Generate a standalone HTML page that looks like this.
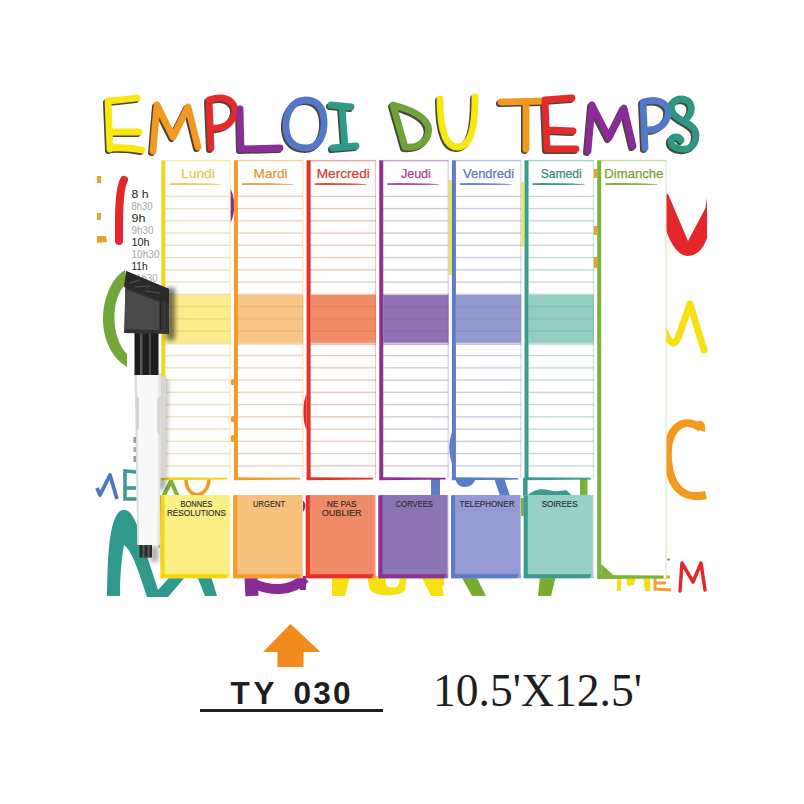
<!DOCTYPE html>
<html><head><meta charset="utf-8"><style>
html,body{margin:0;padding:0;background:#ffffff;width:804px;height:804px;overflow:hidden;}
svg{display:block;font-family:"Liberation Sans",sans-serif;}
</style></head><body><svg width="804" height="804" viewBox="0 0 804 804"><defs>
<filter id="blur3" x="-50%" y="-50%" width="200%" height="200%"><feGaussianBlur stdDeviation="2.5"/></filter>
<filter id="blur1" x="-50%" y="-50%" width="200%" height="200%"><feGaussianBlur stdDeviation="0.6"/></filter>
</defs><g><rect x="97" y="176" width="4" height="7" fill="#f0a030"/><rect x="97" y="213" width="4" height="7" fill="#f0a030"/><path d="M97,236 L106,236 L107,242 L97,243 Z" fill="#f0a030"/><path d="M124,180 C118,190 119,225 119,241" stroke="#e5262a" stroke-width="8" fill="none" stroke-linecap="round"/><path d="M125,270 C99,286 92,345 127,367 L127,354 C111,338 110,298 126,284 Z" fill="#72a83a"/><path d="M97,488 L100,495 L110,475 L117,499" stroke="#4f74c0" stroke-width="3.8" fill="none" stroke-linejoin="round"/><path d="M137,472 L125,471 L125,499 L137,499 M125,488 L136,488" stroke="#3a9b8e" stroke-width="3.5" fill="none"/><path d="M163,497 L171,481 L178,497" stroke="#7cb13a" stroke-width="4" fill="none"/><path d="M186,478 C185,500 209,500 209,478" stroke="#f09a2a" stroke-width="3.5" fill="none"/><path d="M107,596 C108,560 108,522 120,511 C128,506 134,516 138,528 L158,590 L178,568 L186,576 L168,597 L147,597 C140,575 132,550 124,545 C121,560 120,580 120,596 Z" fill="#2f9a8c"/><path d="M197,576 L211,576 L217,596 L205,596 Z" fill="#2f9a8c"/><path d="M251,578 L252,596" stroke="#8a2a95" stroke-width="13" fill="none"/><path d="M250,582 C270,592 292,592 305,578" stroke="#8a2a95" stroke-width="10" fill="none"/><rect x="300" y="576" width="6" height="14" fill="#8a2a95"/><path d="M332,576 L350,576 L345,596 L332,596 Z" fill="#f7e012"/><path d="M367,576 L407,576 L405,590 C400,597 375,597 370,590 Z M385,576 L400,576 L399,584 C396,589 388,589 386,584 Z" fill="#f7e012" fill-rule="evenodd"/><path d="M421,576 L440,576 L444,596 L431,596 Z" fill="#f7e012"/><path d="M461,576 L476,576 L486,596 L472,596 Z" fill="#7aaa32"/><path d="M540,576 L556,576 L551,596 L538,596 Z" fill="#7aaa32"/><rect x="440" y="576" width="4" height="10" fill="#f7e012"/><path d="M617,576 L621.5,576 L621,591 L617,591 Z M626,576 L636,576 L634,585 C631,586 628,586 627,585 Z M643,576 L650,576 L650.5,591 L645,591 Z" fill="#f6df1a"/><path d="M670,577 L655,577 L655,589 L671,590 M655,583 L666,583" stroke="#f0a030" stroke-width="3" fill="none"/><circle cx="668.5" cy="559.5" r="1.3" fill="#b08050"/><path d="M680,591 L682,563 L693,582 L701,563 L705,590" stroke="#e5262a" stroke-width="3.5" fill="none" stroke-linejoin="round" stroke-linecap="round"/><path d="M666,193 L668.5,195 L688,241 L705.5,208 L707,198 L707,238 C703,250 696,256 687,256 C678,255 671,245 666,230 Z" fill="#e5262a"/><path d="M664,330 C670,345 674,346 678,338 L690,304 L704,350" stroke="#f6e012" stroke-width="7" fill="none" stroke-linejoin="round" stroke-linecap="round"/><path d="M701,428 C680,414 666,432 668,460 C670,488 684,500 706,495" stroke="#f29a1f" stroke-width="8" fill="none"/><path d="M698,421 C704,420 706,424 705,432 L699,430 Z" fill="#f29a1f"/><rect x="431" y="478" width="9" height="18" fill="#5a7dc5"/><path d="M494,478 L504,478 L510,496 L500,496 Z" fill="#5a7dc5"/><path d="M455,478 L476,478 C474,484 470,487 464,487 C459,487 456,483 455,478 Z" fill="#5a7dc5"/><path d="M526,497 C532,490 540,488 548,490 C556,492 560,491 566,490 C568,492 570,493 572,496 L572,497 Z" fill="#3a9b8e"/><rect x="580" y="478" width="7.5" height="18" fill="#7cb13a"/><rect x="521" y="498" width="3" height="18" fill="#7cb13a"/><path d="M229,186 C236,196 236,215 229,226 Z" fill="#8a2a95"/><path d="M302,500 C306,502 307,508 302,513 Z" fill="#8a2a95"/><path d="M307,393 C302,402 302,422 307,431 Z" fill="#e5262a"/><path d="M453,430 C448,440 448,455 453,466 Z" fill="#5a7dc5"/><rect x="521" y="182" width="3.5" height="65" fill="#e8ea5a"/><rect x="448.5" y="180" width="3.5" height="95" fill="#ece85a"/><rect x="231" y="379" width="4" height="6" rx="1.5" fill="#f29a2a"/><rect x="231" y="416" width="4" height="6" rx="1.5" fill="#f29a2a"/><rect x="231" y="435" width="4" height="7" rx="1.5" fill="#f29a2a"/><rect x="593.5" y="169" width="4" height="9" fill="#f0a030"/><rect x="593.5" y="226" width="4" height="9" fill="#f0a030"/><rect x="593.5" y="257" width="4" height="11" fill="#f0a030"/></g><g><rect x="161.3" y="160.5" width="69.3" height="317.5" fill="#ffffff"/><rect x="165.3" y="294.55" width="65.3" height="50" fill="#fcec8c"/><rect x="165.3" y="195.65" width="65.3" height="1.4" fill="#ebe3c4"/><rect x="165.3" y="207.90" width="65.3" height="1.4" fill="#ebe3c4"/><rect x="165.3" y="220.15" width="65.3" height="1.4" fill="#ebe3c4"/><rect x="165.3" y="232.40" width="65.3" height="1.4" fill="#ebe3c4"/><rect x="165.3" y="244.65" width="65.3" height="1.4" fill="#ebe3c4"/><rect x="165.3" y="256.90" width="65.3" height="1.4" fill="#ebe3c4"/><rect x="165.3" y="269.15" width="65.3" height="1.4" fill="#ebe3c4"/><rect x="165.3" y="281.40" width="65.3" height="1.4" fill="#ebe3c4"/><rect x="165.3" y="293.65" width="65.3" height="1.4" fill="#ebe3c4"/><rect x="165.3" y="305.90" width="65.3" height="1.4" fill="rgba(120,60,0,0.10)"/><rect x="165.3" y="318.15" width="65.3" height="1.4" fill="rgba(120,60,0,0.10)"/><rect x="165.3" y="330.40" width="65.3" height="1.4" fill="rgba(120,60,0,0.10)"/><rect x="165.3" y="342.65" width="65.3" height="1.4" fill="#ebe3c4"/><rect x="165.3" y="354.90" width="65.3" height="1.4" fill="#ebe3c4"/><rect x="165.3" y="367.15" width="65.3" height="1.4" fill="#ebe3c4"/><rect x="165.3" y="379.40" width="65.3" height="1.4" fill="#ebe3c4"/><rect x="165.3" y="391.65" width="65.3" height="1.4" fill="#ebe3c4"/><rect x="165.3" y="403.90" width="65.3" height="1.4" fill="#ebe3c4"/><rect x="165.3" y="416.15" width="65.3" height="1.4" fill="#ebe3c4"/><rect x="165.3" y="428.40" width="65.3" height="1.4" fill="#ebe3c4"/><rect x="165.3" y="440.65" width="65.3" height="1.4" fill="#ebe3c4"/><rect x="165.3" y="452.90" width="65.3" height="1.4" fill="#ebe3c4"/><rect x="165.3" y="465.15" width="65.3" height="1.4" fill="#ebe3c4"/><path d="M169.3,183.2 Q191.3,182.8 221.3,184.2 L221.3,184.8 Q191.3,185.2 169.3,184.9 Z" fill="#e6c94e" opacity="0.9"/><rect x="161.3" y="159.9" width="69.3" height="1.4" fill="#f5d31c" opacity="0.45"/><rect x="229.60000000000002" y="160.5" width="1.2" height="317.5" fill="#f5d31c" opacity="0.28"/><rect x="161.3" y="160.5" width="4" height="318.5" fill="#f5d31c"/><path d="M161.3,477.2 L227.60000000000002,477.8 L227.60000000000002,479.6 L161.3,480.2 Z" fill="#f5d31c"/><text x="197.95000000000002" y="178" text-anchor="middle" font-family="Liberation Sans" font-size="13" fill="#e6c94e" stroke="#e6c94e" stroke-width="0.25" textLength="34" lengthAdjust="spacingAndGlyphs">Lundi</text></g><rect x="160.5" y="495" width="69.8" height="83.3" fill="#fcef84"/><rect x="229.3" y="495" width="1" height="79.3" fill="#ffffff" opacity="0.35"/><path d="M160.5,496 L164.5,495 L164.5,574.3 L228.3,574.3 L226.3,578.3 L160.5,578.3 Z" fill="#f6d50c"/><text x="196.4" y="507" text-anchor="middle" font-family="Liberation Sans" font-size="9" fill="#2e2e2e" stroke="#2e2e2e" stroke-width="0.15" textLength="32" lengthAdjust="spacingAndGlyphs">BONNES</text><text x="196.4" y="516" text-anchor="middle" font-family="Liberation Sans" font-size="9" fill="#2e2e2e" stroke="#2e2e2e" stroke-width="0.15" textLength="59" lengthAdjust="spacingAndGlyphs">RÉSOLUTIONS</text><g><rect x="233.95000000000002" y="160.5" width="69.3" height="317.5" fill="#ffffff"/><rect x="237.95000000000002" y="294.55" width="65.3" height="50" fill="#f8c587"/><rect x="237.95000000000002" y="195.65" width="65.3" height="1.4" fill="#e9d5c4"/><rect x="237.95000000000002" y="207.90" width="65.3" height="1.4" fill="#e9d5c4"/><rect x="237.95000000000002" y="220.15" width="65.3" height="1.4" fill="#e9d5c4"/><rect x="237.95000000000002" y="232.40" width="65.3" height="1.4" fill="#e9d5c4"/><rect x="237.95000000000002" y="244.65" width="65.3" height="1.4" fill="#e9d5c4"/><rect x="237.95000000000002" y="256.90" width="65.3" height="1.4" fill="#e9d5c4"/><rect x="237.95000000000002" y="269.15" width="65.3" height="1.4" fill="#e9d5c4"/><rect x="237.95000000000002" y="281.40" width="65.3" height="1.4" fill="#e9d5c4"/><rect x="237.95000000000002" y="293.65" width="65.3" height="1.4" fill="#e9d5c4"/><rect x="237.95000000000002" y="305.90" width="65.3" height="1.4" fill="rgba(120,60,0,0.10)"/><rect x="237.95000000000002" y="318.15" width="65.3" height="1.4" fill="rgba(120,60,0,0.10)"/><rect x="237.95000000000002" y="330.40" width="65.3" height="1.4" fill="rgba(120,60,0,0.10)"/><rect x="237.95000000000002" y="342.65" width="65.3" height="1.4" fill="#e9d5c4"/><rect x="237.95000000000002" y="354.90" width="65.3" height="1.4" fill="#e9d5c4"/><rect x="237.95000000000002" y="367.15" width="65.3" height="1.4" fill="#e9d5c4"/><rect x="237.95000000000002" y="379.40" width="65.3" height="1.4" fill="#e9d5c4"/><rect x="237.95000000000002" y="391.65" width="65.3" height="1.4" fill="#e9d5c4"/><rect x="237.95000000000002" y="403.90" width="65.3" height="1.4" fill="#e9d5c4"/><rect x="237.95000000000002" y="416.15" width="65.3" height="1.4" fill="#e9d5c4"/><rect x="237.95000000000002" y="428.40" width="65.3" height="1.4" fill="#e9d5c4"/><rect x="237.95000000000002" y="440.65" width="65.3" height="1.4" fill="#e9d5c4"/><rect x="237.95000000000002" y="452.90" width="65.3" height="1.4" fill="#e9d5c4"/><rect x="237.95000000000002" y="465.15" width="65.3" height="1.4" fill="#e9d5c4"/><path d="M241.95000000000002,183.2 Q263.95000000000005,182.8 293.95000000000005,184.2 L293.95000000000005,184.8 Q263.95000000000005,185.2 241.95000000000002,184.9 Z" fill="#e8983a" opacity="0.9"/><rect x="233.95000000000002" y="159.9" width="69.3" height="1.4" fill="#f29a2a" opacity="0.45"/><rect x="302.25" y="160.5" width="1.2" height="317.5" fill="#f29a2a" opacity="0.28"/><rect x="233.95000000000002" y="160.5" width="4" height="318.5" fill="#f29a2a"/><path d="M233.95000000000002,477.2 L300.25,477.8 L300.25,479.6 L233.95000000000002,480.2 Z" fill="#f29a2a"/><text x="270.6" y="178" text-anchor="middle" font-family="Liberation Sans" font-size="13" fill="#e8983a" stroke="#e8983a" stroke-width="0.25" textLength="34" lengthAdjust="spacingAndGlyphs">Mardi</text></g><rect x="233.15" y="495" width="69.8" height="83.3" fill="#f6c07d"/><rect x="301.95" y="495" width="1" height="79.3" fill="#ffffff" opacity="0.35"/><path d="M233.15,496 L237.15,495 L237.15,574.3 L300.95,574.3 L298.95,578.3 L233.15,578.3 Z" fill="#f29a2a"/><text x="269.05" y="507" text-anchor="middle" font-family="Liberation Sans" font-size="9" fill="#2e2e2e" stroke="#2e2e2e" stroke-width="0.15" textLength="32" lengthAdjust="spacingAndGlyphs">URGENT</text><g><rect x="306.6" y="160.5" width="69.3" height="317.5" fill="#ffffff"/><rect x="310.6" y="294.55" width="65.3" height="50" fill="#f08c66"/><rect x="310.6" y="195.65" width="65.3" height="1.4" fill="#e6cbc2"/><rect x="310.6" y="207.90" width="65.3" height="1.4" fill="#e6cbc2"/><rect x="310.6" y="220.15" width="65.3" height="1.4" fill="#e6cbc2"/><rect x="310.6" y="232.40" width="65.3" height="1.4" fill="#e6cbc2"/><rect x="310.6" y="244.65" width="65.3" height="1.4" fill="#e6cbc2"/><rect x="310.6" y="256.90" width="65.3" height="1.4" fill="#e6cbc2"/><rect x="310.6" y="269.15" width="65.3" height="1.4" fill="#e6cbc2"/><rect x="310.6" y="281.40" width="65.3" height="1.4" fill="#e6cbc2"/><rect x="310.6" y="293.65" width="65.3" height="1.4" fill="#e6cbc2"/><rect x="310.6" y="305.90" width="65.3" height="1.4" fill="rgba(120,60,0,0.10)"/><rect x="310.6" y="318.15" width="65.3" height="1.4" fill="rgba(120,60,0,0.10)"/><rect x="310.6" y="330.40" width="65.3" height="1.4" fill="rgba(120,60,0,0.10)"/><rect x="310.6" y="342.65" width="65.3" height="1.4" fill="#e6cbc2"/><rect x="310.6" y="354.90" width="65.3" height="1.4" fill="#e6cbc2"/><rect x="310.6" y="367.15" width="65.3" height="1.4" fill="#e6cbc2"/><rect x="310.6" y="379.40" width="65.3" height="1.4" fill="#e6cbc2"/><rect x="310.6" y="391.65" width="65.3" height="1.4" fill="#e6cbc2"/><rect x="310.6" y="403.90" width="65.3" height="1.4" fill="#e6cbc2"/><rect x="310.6" y="416.15" width="65.3" height="1.4" fill="#e6cbc2"/><rect x="310.6" y="428.40" width="65.3" height="1.4" fill="#e6cbc2"/><rect x="310.6" y="440.65" width="65.3" height="1.4" fill="#e6cbc2"/><rect x="310.6" y="452.90" width="65.3" height="1.4" fill="#e6cbc2"/><rect x="310.6" y="465.15" width="65.3" height="1.4" fill="#e6cbc2"/><path d="M314.6,183.2 Q336.6,182.8 366.6,184.2 L366.6,184.8 Q336.6,185.2 314.6,184.9 Z" fill="#d9402a" opacity="0.9"/><rect x="306.6" y="159.9" width="69.3" height="1.4" fill="#e3322a" opacity="0.45"/><rect x="374.90000000000003" y="160.5" width="1.2" height="317.5" fill="#e3322a" opacity="0.28"/><rect x="306.6" y="160.5" width="4" height="318.5" fill="#e3322a"/><path d="M306.6,477.2 L372.90000000000003,477.8 L372.90000000000003,479.6 L306.6,480.2 Z" fill="#e3322a"/><text x="343.25" y="178" text-anchor="middle" font-family="Liberation Sans" font-size="13" fill="#d9402a" stroke="#d9402a" stroke-width="0.25" textLength="53" lengthAdjust="spacingAndGlyphs">Mercredi</text></g><rect x="305.8" y="495" width="69.8" height="83.3" fill="#ef8a66"/><rect x="374.6" y="495" width="1" height="79.3" fill="#ffffff" opacity="0.35"/><path d="M305.8,496 L309.8,495 L309.8,574.3 L373.6,574.3 L371.6,578.3 L305.8,578.3 Z" fill="#e3322a"/><text x="341.7" y="507" text-anchor="middle" font-family="Liberation Sans" font-size="9" fill="#2e2e2e" stroke="#2e2e2e" stroke-width="0.15" textLength="30" lengthAdjust="spacingAndGlyphs">NE PAS</text><text x="341.7" y="516" text-anchor="middle" font-family="Liberation Sans" font-size="9" fill="#2e2e2e" stroke="#2e2e2e" stroke-width="0.15" textLength="40" lengthAdjust="spacingAndGlyphs">OUBLIER</text><g><rect x="379.25" y="160.5" width="69.3" height="317.5" fill="#ffffff"/><rect x="383.25" y="294.55" width="65.3" height="50" fill="#8e72b4"/><rect x="383.25" y="195.65" width="65.3" height="1.4" fill="#d3cad8"/><rect x="383.25" y="207.90" width="65.3" height="1.4" fill="#d3cad8"/><rect x="383.25" y="220.15" width="65.3" height="1.4" fill="#d3cad8"/><rect x="383.25" y="232.40" width="65.3" height="1.4" fill="#d3cad8"/><rect x="383.25" y="244.65" width="65.3" height="1.4" fill="#d3cad8"/><rect x="383.25" y="256.90" width="65.3" height="1.4" fill="#d3cad8"/><rect x="383.25" y="269.15" width="65.3" height="1.4" fill="#d3cad8"/><rect x="383.25" y="281.40" width="65.3" height="1.4" fill="#d3cad8"/><rect x="383.25" y="293.65" width="65.3" height="1.4" fill="#d3cad8"/><rect x="383.25" y="305.90" width="65.3" height="1.4" fill="rgba(120,60,0,0.10)"/><rect x="383.25" y="318.15" width="65.3" height="1.4" fill="rgba(120,60,0,0.10)"/><rect x="383.25" y="330.40" width="65.3" height="1.4" fill="rgba(120,60,0,0.10)"/><rect x="383.25" y="342.65" width="65.3" height="1.4" fill="#d3cad8"/><rect x="383.25" y="354.90" width="65.3" height="1.4" fill="#d3cad8"/><rect x="383.25" y="367.15" width="65.3" height="1.4" fill="#d3cad8"/><rect x="383.25" y="379.40" width="65.3" height="1.4" fill="#d3cad8"/><rect x="383.25" y="391.65" width="65.3" height="1.4" fill="#d3cad8"/><rect x="383.25" y="403.90" width="65.3" height="1.4" fill="#d3cad8"/><rect x="383.25" y="416.15" width="65.3" height="1.4" fill="#d3cad8"/><rect x="383.25" y="428.40" width="65.3" height="1.4" fill="#d3cad8"/><rect x="383.25" y="440.65" width="65.3" height="1.4" fill="#d3cad8"/><rect x="383.25" y="452.90" width="65.3" height="1.4" fill="#d3cad8"/><rect x="383.25" y="465.15" width="65.3" height="1.4" fill="#d3cad8"/><path d="M387.25,183.2 Q409.25,182.8 439.25,184.2 L439.25,184.8 Q409.25,185.2 387.25,184.9 Z" fill="#a8409a" opacity="0.9"/><rect x="379.25" y="159.9" width="69.3" height="1.4" fill="#8d3190" opacity="0.45"/><rect x="447.55" y="160.5" width="1.2" height="317.5" fill="#8d3190" opacity="0.28"/><rect x="379.25" y="160.5" width="4" height="318.5" fill="#8d3190"/><path d="M379.25,477.2 L445.55,477.8 L445.55,479.6 L379.25,480.2 Z" fill="#8d3190"/><text x="415.9" y="178" text-anchor="middle" font-family="Liberation Sans" font-size="13" fill="#a8409a" stroke="#a8409a" stroke-width="0.25" textLength="30" lengthAdjust="spacingAndGlyphs">Jeudi</text></g><rect x="378.45" y="495" width="69.8" height="83.3" fill="#8c74b6"/><rect x="447.25" y="495" width="1" height="79.3" fill="#ffffff" opacity="0.35"/><path d="M378.45,496 L382.45,495 L382.45,574.3 L446.25,574.3 L444.25,578.3 L378.45,578.3 Z" fill="#8a3390"/><text x="414.34999999999997" y="507" text-anchor="middle" font-family="Liberation Sans" font-size="9" fill="#2e2e2e" stroke="#2e2e2e" stroke-width="0.15" textLength="37" lengthAdjust="spacingAndGlyphs">CORVEES</text><g><rect x="451.90000000000003" y="160.5" width="69.3" height="317.5" fill="#ffffff"/><rect x="455.90000000000003" y="294.55" width="65.3" height="50" fill="#939ad2"/><rect x="455.90000000000003" y="195.65" width="65.3" height="1.4" fill="#cbd0e0"/><rect x="455.90000000000003" y="207.90" width="65.3" height="1.4" fill="#cbd0e0"/><rect x="455.90000000000003" y="220.15" width="65.3" height="1.4" fill="#cbd0e0"/><rect x="455.90000000000003" y="232.40" width="65.3" height="1.4" fill="#cbd0e0"/><rect x="455.90000000000003" y="244.65" width="65.3" height="1.4" fill="#cbd0e0"/><rect x="455.90000000000003" y="256.90" width="65.3" height="1.4" fill="#cbd0e0"/><rect x="455.90000000000003" y="269.15" width="65.3" height="1.4" fill="#cbd0e0"/><rect x="455.90000000000003" y="281.40" width="65.3" height="1.4" fill="#cbd0e0"/><rect x="455.90000000000003" y="293.65" width="65.3" height="1.4" fill="#cbd0e0"/><rect x="455.90000000000003" y="305.90" width="65.3" height="1.4" fill="rgba(120,60,0,0.10)"/><rect x="455.90000000000003" y="318.15" width="65.3" height="1.4" fill="rgba(120,60,0,0.10)"/><rect x="455.90000000000003" y="330.40" width="65.3" height="1.4" fill="rgba(120,60,0,0.10)"/><rect x="455.90000000000003" y="342.65" width="65.3" height="1.4" fill="#cbd0e0"/><rect x="455.90000000000003" y="354.90" width="65.3" height="1.4" fill="#cbd0e0"/><rect x="455.90000000000003" y="367.15" width="65.3" height="1.4" fill="#cbd0e0"/><rect x="455.90000000000003" y="379.40" width="65.3" height="1.4" fill="#cbd0e0"/><rect x="455.90000000000003" y="391.65" width="65.3" height="1.4" fill="#cbd0e0"/><rect x="455.90000000000003" y="403.90" width="65.3" height="1.4" fill="#cbd0e0"/><rect x="455.90000000000003" y="416.15" width="65.3" height="1.4" fill="#cbd0e0"/><rect x="455.90000000000003" y="428.40" width="65.3" height="1.4" fill="#cbd0e0"/><rect x="455.90000000000003" y="440.65" width="65.3" height="1.4" fill="#cbd0e0"/><rect x="455.90000000000003" y="452.90" width="65.3" height="1.4" fill="#cbd0e0"/><rect x="455.90000000000003" y="465.15" width="65.3" height="1.4" fill="#cbd0e0"/><path d="M459.90000000000003,183.2 Q481.90000000000003,182.8 511.90000000000003,184.2 L511.90000000000003,184.8 Q481.90000000000003,185.2 459.90000000000003,184.9 Z" fill="#5a76bd" opacity="0.9"/><rect x="451.90000000000003" y="159.9" width="69.3" height="1.4" fill="#5a7dc5" opacity="0.45"/><rect x="520.2" y="160.5" width="1.2" height="317.5" fill="#5a7dc5" opacity="0.28"/><rect x="451.90000000000003" y="160.5" width="4" height="318.5" fill="#5a7dc5"/><path d="M451.90000000000003,477.2 L518.2,477.8 L518.2,479.6 L451.90000000000003,480.2 Z" fill="#5a7dc5"/><text x="488.55" y="178" text-anchor="middle" font-family="Liberation Sans" font-size="13" fill="#5a76bd" stroke="#5a76bd" stroke-width="0.25" textLength="51" lengthAdjust="spacingAndGlyphs">Vendredi</text></g><rect x="451.1" y="495" width="69.8" height="83.3" fill="#9599d4"/><rect x="519.9" y="495" width="1" height="79.3" fill="#ffffff" opacity="0.35"/><path d="M451.1,496 L455.1,495 L455.1,574.3 L518.9,574.3 L516.9,578.3 L451.1,578.3 Z" fill="#5a7dc5"/><text x="487.0" y="507" text-anchor="middle" font-family="Liberation Sans" font-size="9" fill="#2e2e2e" stroke="#2e2e2e" stroke-width="0.15" textLength="55" lengthAdjust="spacingAndGlyphs">TELEPHONER</text><g><rect x="524.55" y="160.5" width="69.3" height="317.5" fill="#ffffff"/><rect x="528.55" y="294.55" width="65.3" height="50" fill="#92cec3"/><rect x="528.55" y="195.65" width="65.3" height="1.4" fill="#c6d9d5"/><rect x="528.55" y="207.90" width="65.3" height="1.4" fill="#c6d9d5"/><rect x="528.55" y="220.15" width="65.3" height="1.4" fill="#c6d9d5"/><rect x="528.55" y="232.40" width="65.3" height="1.4" fill="#c6d9d5"/><rect x="528.55" y="244.65" width="65.3" height="1.4" fill="#c6d9d5"/><rect x="528.55" y="256.90" width="65.3" height="1.4" fill="#c6d9d5"/><rect x="528.55" y="269.15" width="65.3" height="1.4" fill="#c6d9d5"/><rect x="528.55" y="281.40" width="65.3" height="1.4" fill="#c6d9d5"/><rect x="528.55" y="293.65" width="65.3" height="1.4" fill="#c6d9d5"/><rect x="528.55" y="305.90" width="65.3" height="1.4" fill="rgba(120,60,0,0.10)"/><rect x="528.55" y="318.15" width="65.3" height="1.4" fill="rgba(120,60,0,0.10)"/><rect x="528.55" y="330.40" width="65.3" height="1.4" fill="rgba(120,60,0,0.10)"/><rect x="528.55" y="342.65" width="65.3" height="1.4" fill="#c6d9d5"/><rect x="528.55" y="354.90" width="65.3" height="1.4" fill="#c6d9d5"/><rect x="528.55" y="367.15" width="65.3" height="1.4" fill="#c6d9d5"/><rect x="528.55" y="379.40" width="65.3" height="1.4" fill="#c6d9d5"/><rect x="528.55" y="391.65" width="65.3" height="1.4" fill="#c6d9d5"/><rect x="528.55" y="403.90" width="65.3" height="1.4" fill="#c6d9d5"/><rect x="528.55" y="416.15" width="65.3" height="1.4" fill="#c6d9d5"/><rect x="528.55" y="428.40" width="65.3" height="1.4" fill="#c6d9d5"/><rect x="528.55" y="440.65" width="65.3" height="1.4" fill="#c6d9d5"/><rect x="528.55" y="452.90" width="65.3" height="1.4" fill="#c6d9d5"/><rect x="528.55" y="465.15" width="65.3" height="1.4" fill="#c6d9d5"/><path d="M532.55,183.2 Q554.55,182.8 584.55,184.2 L584.55,184.8 Q554.55,185.2 532.55,184.9 Z" fill="#378b7d" opacity="0.9"/><rect x="524.55" y="159.9" width="69.3" height="1.4" fill="#3a9b8e" opacity="0.45"/><rect x="592.8499999999999" y="160.5" width="1.2" height="317.5" fill="#3a9b8e" opacity="0.28"/><rect x="524.55" y="160.5" width="4" height="318.5" fill="#3a9b8e"/><path d="M524.55,477.2 L590.8499999999999,477.8 L590.8499999999999,479.6 L524.55,480.2 Z" fill="#3a9b8e"/><text x="561.1999999999999" y="178" text-anchor="middle" font-family="Liberation Sans" font-size="13" fill="#378b7d" stroke="#378b7d" stroke-width="0.25" textLength="41" lengthAdjust="spacingAndGlyphs">Samedi</text></g><rect x="523.05" y="478.0" width="4.5" height="18" fill="#3a9b8e"/><rect x="523.75" y="495" width="69.8" height="83.3" fill="#97d1c6"/><rect x="592.55" y="495" width="1" height="79.3" fill="#ffffff" opacity="0.35"/><path d="M523.75,496 L527.75,495 L527.75,574.3 L591.55,574.3 L589.55,578.3 L523.75,578.3 Z" fill="#3a9b8e"/><text x="559.65" y="507" text-anchor="middle" font-family="Liberation Sans" font-size="9" fill="#2e2e2e" stroke="#2e2e2e" stroke-width="0.15" textLength="36" lengthAdjust="spacingAndGlyphs">SOIREES</text><g><rect x="597.2" y="160.5" width="69.3" height="417.5" fill="#ffffff"/><path d="M605.2,183.2 Q627.2,182.8 657.2,184.2 L657.2,184.8 Q627.2,185.2 605.2,184.9 Z" fill="#76a232" opacity="0.9"/><rect x="597.2" y="159.9" width="69.3" height="1.4" fill="#7cb13a" opacity="0.45"/><rect x="665.5" y="160.5" width="1.2" height="417.5" fill="#7cb13a" opacity="0.28"/><rect x="597.2" y="160.5" width="4" height="418.5" fill="#7cb13a"/><path d="M597.2,575 L663.5,575.5 L663.5,578.5 L597.2,579 Z" fill="#7cb13a"/><path d="M601.2,564 L613.2,575 L601.2,575 Z" fill="#7cb13a"/><text x="633.85" y="178" text-anchor="middle" font-family="Liberation Sans" font-size="13" fill="#76a232" stroke="#76a232" stroke-width="0.25" textLength="59" lengthAdjust="spacingAndGlyphs">Dimanche</text></g><text x="131.5" y="197.5" font-family="Liberation Sans" font-size="10" fill="#222222" stroke="none" textLength="17" lengthAdjust="spacingAndGlyphs">8 h</text><text x="131.5" y="209.6" font-family="Liberation Sans" font-size="10" fill="#a4a4a4" stroke="none" textLength="21" lengthAdjust="spacingAndGlyphs">8h30</text><text x="131.5" y="221.7" font-family="Liberation Sans" font-size="10" fill="#222222" stroke="none" textLength="14" lengthAdjust="spacingAndGlyphs">9h</text><text x="131.5" y="233.8" font-family="Liberation Sans" font-size="10" fill="#a4a4a4" stroke="none" textLength="22" lengthAdjust="spacingAndGlyphs">9h30</text><text x="131.5" y="245.9" font-family="Liberation Sans" font-size="10" fill="#222222" stroke="none" textLength="18" lengthAdjust="spacingAndGlyphs">10h</text><text x="131.5" y="258.0" font-family="Liberation Sans" font-size="10" fill="#a4a4a4" stroke="none" textLength="28" lengthAdjust="spacingAndGlyphs">10h30</text><text x="131.5" y="270.1" font-family="Liberation Sans" font-size="10" fill="#222222" stroke="none" textLength="16" lengthAdjust="spacingAndGlyphs">11h</text><text x="131.5" y="282.2" font-family="Liberation Sans" font-size="10" fill="#a4a4a4" stroke="none" textLength="26" lengthAdjust="spacingAndGlyphs">11h30</text><g>
<path d="M159,378 L168,380 L166,490 L157,490 Z" fill="#000" opacity="0.3" filter="url(#blur3)"/><path d="M159,495 L161,495 L160,548 L158,548 Z" fill="#000" opacity="0.25" filter="url(#blur1)"/><path d="M160,376 L166,376 L166,478 L160,478 Z" fill="#d9d7cf" filter="url(#blur1)"/>
<rect x="166" y="288" width="9" height="52" fill="#000" opacity="0.55" filter="url(#blur3)"/>
<rect x="151" y="546" width="7" height="16" fill="#000" opacity="0.35" filter="url(#blur3)"/>
<path d="M134.5,373 L161,373 L159.6,545 L137.4,545 Z" fill="#f8f8f8"/>
<path d="M134.5,373 L137,373 L139,545 L137.4,545 Z" fill="#dcdcdc"/>
<path d="M158.5,373 L161,373 L159.6,545 L157.5,545 Z" fill="#e4e4e4"/>
<path d="M136,395 L139,398 L139,428 L136,431 Z" fill="#d4d4d4"/>
<path d="M161,395 L157,399 L157,432 L160.5,436 Z" fill="#d8d8d8"/>
<rect x="133.5" y="437" width="2.5" height="6" fill="#9a9a9a"/>
<rect x="133.5" y="447" width="2.5" height="5" fill="#aaaaaa"/>
<rect x="133.5" y="456" width="2.5" height="6" fill="#9a9a9a"/>
<rect x="139.5" y="545" width="12.5" height="12.5" fill="#2b2b2b"/>
<rect x="142.5" y="545" width="2" height="12.5" fill="#5a5a5a"/>
<rect x="147.5" y="545" width="2" height="12.5" fill="#5a5a5a"/>
<rect x="134.5" y="332" width="24" height="43" fill="#1d1d1d"/>
<rect x="140" y="332" width="2.5" height="43" fill="#5a5a5a"/>
<rect x="149" y="332" width="2" height="43" fill="#4a4a4a"/>
<path d="M126,271 L169,289 L169,334 L124,333 Z" fill="#333333"/>
<path d="M126,271 L169,289 L169,304 L124,287 Z" fill="#2a2a2a"/>
<path d="M130,283 L140,280 M135,287 L150,286 M145,291 L160,293" stroke="#555" stroke-width="1.2"/>
<path d="M125,289 L159,302 L159,330 L125,329 Z" fill="#4a4a4a"/>
<rect x="160" y="300" width="1" height="30" fill="#222"/>
<rect x="164" y="300" width="1" height="30" fill="#3c3c3c"/>
</g><g><path d="M108,101 L110,149 M108,101 Q122,100 137,98 M111,132 L139,132 M111,148 Q127,147 142,150" transform="translate(-1.6,1.6)" stroke="#4a463a" stroke-width="6.8" fill="none" stroke-linecap="round" stroke-linejoin="round"/><path d="M153,151 L157,105 L173,137 L188,107 L198,147" transform="translate(-1.6,1.6)" stroke="#4a463a" stroke-width="6.8" fill="none" stroke-linecap="round" stroke-linejoin="round"/><path d="M211,148 L209,100 C230,93 238,106 234,116 C230,126 220,129 213,128" transform="translate(-1.6,1.6)" stroke="#4a463a" stroke-width="6.8" fill="none" stroke-linecap="round" stroke-linejoin="round"/><path d="M240,109 L241,149 L280,148" transform="translate(-1.6,1.6)" stroke="#4a463a" stroke-width="6.8" fill="none" stroke-linecap="round" stroke-linejoin="round"/><path d="M305,100 C292,100 285,115 286,128 C287,142 295,148 306,148 C318,148 325,136 324,120 C323,106 316,100 305,100 Z" transform="translate(-1.6,1.6)" stroke="#4a463a" stroke-width="6.8" fill="none" stroke-linecap="round" stroke-linejoin="round"/><path d="M331,105 L351,107 M342,107 L345,147 M333,148 L356,146" transform="translate(-1.6,1.6)" stroke="#4a463a" stroke-width="6.8" fill="none" stroke-linecap="round" stroke-linejoin="round"/><path d="M393,105 L405,147 C415,148 424,145 428,135 C432,122 420,112 393,105 Z" transform="translate(-1.6,1.6)" stroke="#4a463a" stroke-width="6.8" fill="none" stroke-linecap="round" stroke-linejoin="round"/><path d="M440,99 C440,120 443,147 457,147 C472,147 475,125 475,97" transform="translate(-1.6,1.6)" stroke="#4a463a" stroke-width="6.8" fill="none" stroke-linecap="round" stroke-linejoin="round"/><path d="M501,102 L545,101 M526,103 L526,149" transform="translate(-1.6,1.6)" stroke="#4a463a" stroke-width="6.8" fill="none" stroke-linecap="round" stroke-linejoin="round"/><path d="M545,100 L572,98 M545,100 L547,149 L576,149 M548,130 L573,131" transform="translate(-1.6,1.6)" stroke="#4a463a" stroke-width="6.8" fill="none" stroke-linecap="round" stroke-linejoin="round"/><path d="M588,151 L592,105 L609,138 L624,108 L633,146" transform="translate(-1.6,1.6)" stroke="#4a463a" stroke-width="6.8" fill="none" stroke-linecap="round" stroke-linejoin="round"/><path d="M645,148 L643,102 C660,97 670,105 668,115 C666,126 655,130 649,130" transform="translate(-1.6,1.6)" stroke="#4a463a" stroke-width="6.8" fill="none" stroke-linecap="round" stroke-linejoin="round"/><path d="M688,117 C694,110 692,100 682,99 C673,99 669,106 673,113 C677,121 696,123 696,135 C696,147 688,150 681,149 C674,148 670,145 671,140 C673,136 679,136 681,140" transform="translate(-1.6,1.6)" stroke="#4a463a" stroke-width="6.8" fill="none" stroke-linecap="round" stroke-linejoin="round"/><path d="M108,101 L110,149 M108,101 Q122,100 137,98 M111,132 L139,132 M111,148 Q127,147 142,150" stroke="#f8e812" stroke-width="6.8" fill="none" stroke-linecap="round" stroke-linejoin="round"/><path d="M153,151 L157,105 L173,137 L188,107 L198,147" stroke="#f29a1f" stroke-width="6.8" fill="none" stroke-linecap="round" stroke-linejoin="round"/><path d="M211,148 L209,100 C230,93 238,106 234,116 C230,126 220,129 213,128" stroke="#e42a2a" stroke-width="6.8" fill="none" stroke-linecap="round" stroke-linejoin="round"/><path d="M240,109 L241,149 L280,148" stroke="#8b2d9b" stroke-width="6.8" fill="none" stroke-linecap="round" stroke-linejoin="round"/><path d="M305,100 C292,100 285,115 286,128 C287,142 295,148 306,148 C318,148 325,136 324,120 C323,106 316,100 305,100 Z" stroke="#5577c8" stroke-width="6.8" fill="none" stroke-linecap="round" stroke-linejoin="round"/><path d="M331,105 L351,107 M342,107 L345,147 M333,148 L356,146" stroke="#2e9a8a" stroke-width="6.8" fill="none" stroke-linecap="round" stroke-linejoin="round"/><path d="M393,105 L405,147 C415,148 424,145 428,135 C432,122 420,112 393,105 Z" stroke="#6da33a" stroke-width="6.8" fill="none" stroke-linecap="round" stroke-linejoin="round"/><path d="M440,99 C440,120 443,147 457,147 C472,147 475,125 475,97" stroke="#f8e812" stroke-width="6.8" fill="none" stroke-linecap="round" stroke-linejoin="round"/><path d="M501,102 L545,101 M526,103 L526,149" stroke="#f29a1f" stroke-width="6.8" fill="none" stroke-linecap="round" stroke-linejoin="round"/><path d="M545,100 L572,98 M545,100 L547,149 L576,149 M548,130 L573,131" stroke="#e42a2a" stroke-width="6.8" fill="none" stroke-linecap="round" stroke-linejoin="round"/><path d="M588,151 L592,105 L609,138 L624,108 L633,146" stroke="#8b2a98" stroke-width="6.8" fill="none" stroke-linecap="round" stroke-linejoin="round"/><path d="M645,148 L643,102 C660,97 670,105 668,115 C666,126 655,130 649,130" stroke="#5578c8" stroke-width="6.8" fill="none" stroke-linecap="round" stroke-linejoin="round"/><path d="M688,117 C694,110 692,100 682,99 C673,99 669,106 673,113 C677,121 696,123 696,135 C696,147 688,150 681,149 C674,148 670,145 671,140 C673,136 679,136 681,140" stroke="#2e9684" stroke-width="6.8" fill="none" stroke-linecap="round" stroke-linejoin="round"/></g><path d="M290.5,624 L320.5,652 L303.5,652 L303.5,667 L277.5,667 L277.5,652 L263,652 Z" fill="#f28a1e"/><text x="230.5" y="704" font-family="Liberation Sans" font-weight="bold" font-size="31.5" fill="#1e1e1e" textLength="44" lengthAdjust="spacing">TY</text><text x="293.5" y="704" font-family="Liberation Sans" font-weight="bold" font-size="31.5" fill="#1e1e1e" textLength="57" lengthAdjust="spacing">030</text><rect x="200" y="709" width="183" height="3" fill="#1e1e1e"/><text x="433" y="706" font-family="Liberation Serif" font-size="46" fill="#1e1e1e" textLength="209" lengthAdjust="spacingAndGlyphs">10.5'X12.5'</text></svg></body></html>
